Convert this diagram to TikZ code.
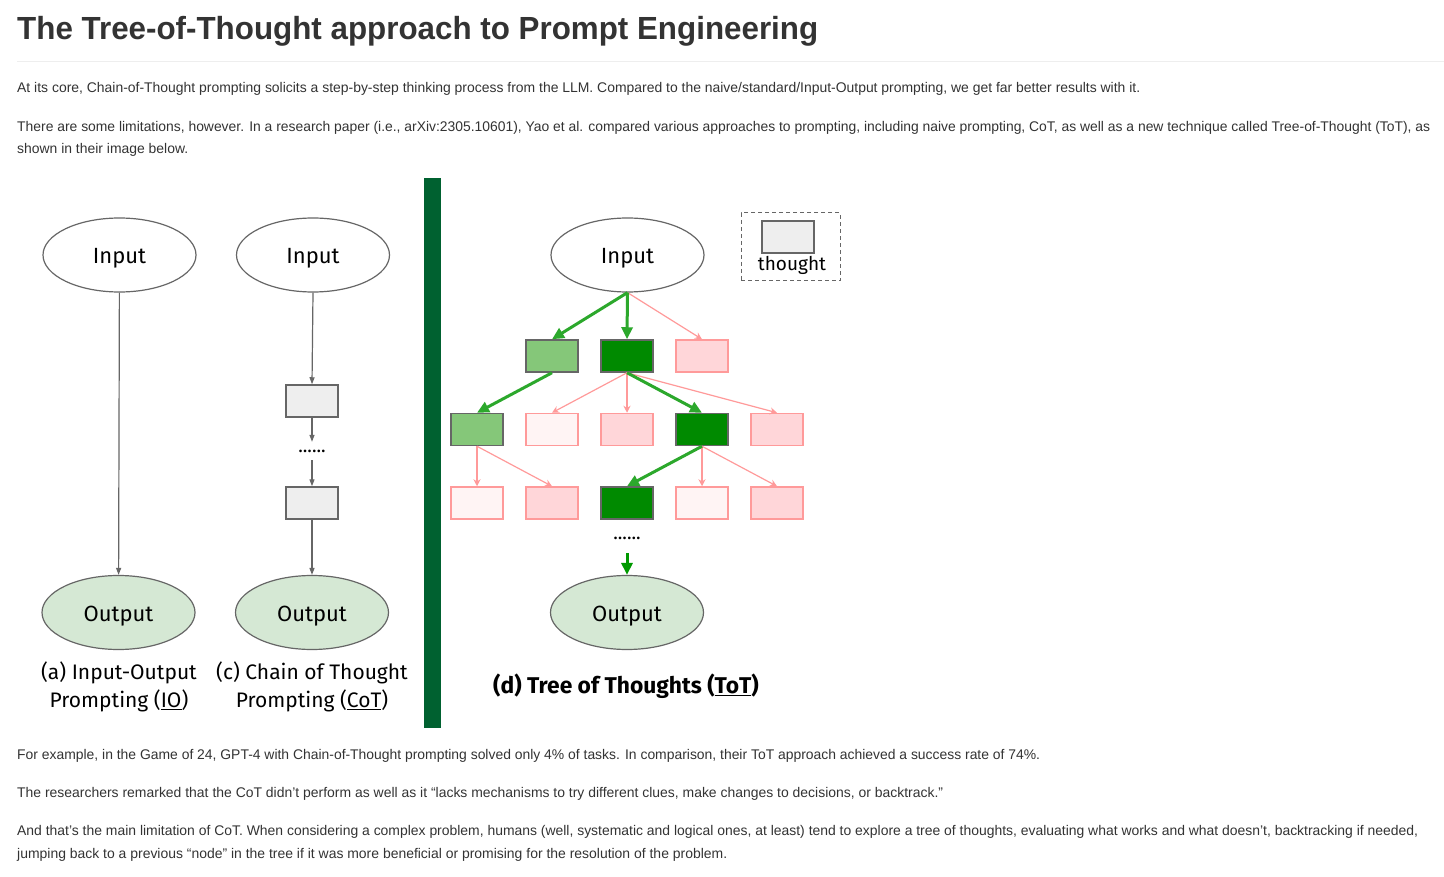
\documentclass[tikz,border=0pt]{standalone}
\usepackage{fontspec}
\usepackage{graphicx}
\setmainfont{Liberation Sans}
\newfontfamily\dfont{Fira Sans}
\usetikzlibrary{arrows.meta,shapes.geometric}
\definecolor{txt}{HTML}{333333}
\definecolor{hr}{HTML}{EEEEEE}
\definecolor{lgray}{HTML}{666666}
\definecolor{thfill}{HTML}{EEEEEE}
\definecolor{outfill}{HTML}{D5E8D4}
\definecolor{lgreen}{HTML}{85C779}
\definecolor{dgreen}{HTML}{008A00}
\definecolor{pstroke}{HTML}{FF9A9A}
\definecolor{pfill}{HTML}{FFD6D9}
\definecolor{vpfill}{HTML}{FFF4F4}
\definecolor{garrow}{HTML}{2CA82C}
\definecolor{oarrow}{HTML}{009900}
\definecolor{bar}{HTML}{006130}
\newcommand{\fitw}[2]{\resizebox{#1}{\height}{#2}}
\tikzset{
  body/.style={anchor=base west, inner sep=0pt, text=txt, font=\fontsize{14}{16}\selectfont},
  gline/.style={draw=lgray, line width=1.2pt, -{Triangle[length=7pt,width=5pt]}},
  ell/.style={ellipse, draw=lgray, line width=1.2pt, minimum width=153pt, minimum height=74pt, inner sep=0pt, text height=18pt, text depth=0pt, font=\dfont\fontsize{22}{26}\selectfont},
  inell/.style={ell, fill=white},
  outell/.style={ell, fill=outfill},
  tbox/.style={rectangle, minimum width=52pt, minimum height=32pt, inner sep=0pt, line width=1.5pt},
  grayb/.style={tbox, draw=lgray, fill=thfill},
  lgb/.style={tbox, draw=lgray, fill=lgreen},
  dgb/.style={tbox, draw=lgray, fill=dgreen},
  pkb/.style={tbox, draw=pstroke, fill=pfill},
  vpb/.style={tbox, draw=pstroke, fill=vpfill},
  garr/.style={draw=garrow, line width=3pt, -{Triangle[length=12pt,width=11pt]}},
  oarr/.style={draw=oarrow, line width=3pt, -{Triangle[length=12pt,width=11pt]}},
  parr/.style={draw=pstroke, line width=1.2pt, -{Stealth[length=7pt,width=7pt]}},
  dotsn/.style={inner sep=0pt, minimum height=18pt, text height=3pt, text depth=0pt, font=\dfont\fontsize{19}{19}\selectfont},
  capt/.style={align=center, inner sep=0pt, font=\dfont\fontsize{21}{28}\selectfont},
}
\begin{document}
\begin{tikzpicture}[x=1pt,y=-1pt]
\useasboundingbox (0,0) rectangle (1444,877);
\fill[white] (0,0) rectangle (1444,877);

% title and rule
\node[anchor=base west, inner sep=0pt, text=txt, font=\bfseries\fontsize{32}{36}\selectfont] (title) at (17,40) {\fitw{801pt}{The Tree-of-Thought approach to Prompt Engineering}};
\draw[hr, line width=1pt] (17,62) -- (1444,62);

% body text
\node[body] (p1) at (17,93) {\fitw{1123pt}{At its core, Chain-of-Thought prompting solicits a step-by-step thinking process from the LLM. Compared to the naive/standard/Input-Output prompting, we get far better results with it.}};
\node[body] (p2a) at (17,132) {\fitw{1413pt}{There are some limitations, however. In a research paper (i.e., arXiv:2305.10601), Yao et al. compared various approaches to prompting, including naive prompting, CoT, as well as a new technique called Tree-of-Thought (ToT), as}};
\node[body] (p2b) at (17,154) {\fitw{171pt}{shown in their image below.}};
\node[body] (p3) at (17,759) {\fitw{1023pt}{For example, in the Game of 24, GPT-4 with Chain-of-Thought prompting solved only 4\% of tasks. In comparison, their ToT approach achieved a success rate of 74\%.}};
\node[body] (p4) at (17,797) {\fitw{926pt}{The researchers remarked that the CoT didn't perform as well as it “lacks mechanisms to try different clues, make changes to decisions, or backtrack.”}};
\node[body] (p5a) at (17,835) {\fitw{1401pt}{And that's the main limitation of CoT. When considering a complex problem, humans (well, systematic and logical ones, at least) tend to explore a tree of thoughts, evaluating what works and what doesn't, backtracking if needed,}};
\node[body] (p5b) at (17,858) {\fitw{710pt}{jumping back to a previous “node” in the tree if it was more beneficial or promising for the resolution of the problem.}};

% divider bar
\fill[bar] (424,178) rectangle (441,728);

% (a) IO
\node[inell] (inA) at (119.5,255) {Input};
\node[outell] (outA) at (118.5,612.5) {Output};
\draw[gline] (inA) -- (outA);
\node[capt] (capA) at (119,687) {(a) Input-Output\\Prompting (\underline{IO})};

% (c) CoT
\node[inell] (inC) at (313,255) {Input};
\node[grayb] (c1) at (312,401) {};
\node[dotsn] (cdots) at (312,451) {......};
\node[grayb] (c2) at (312,503) {};
\node[outell] (outC) at (312,612.5) {Output};
\draw[gline] (inC.south) -- (c1.north);
\draw[gline] (c1) -- (cdots);
\draw[gline] (cdots) -- (c2);
\draw[gline] (c2) -- (outC);
\node[capt] (capC) at (312,687) {(c) Chain of Thought\\Prompting (\underline{CoT})};

% (d) ToT
\node[inell] (inT) at (627.5,255) {Input};
\node[draw=lgray, dash pattern=on 4pt off 3pt, line width=1pt, minimum width=99pt, minimum height=68pt, inner sep=0pt] (legend) at (790.5,247) {};
\node[grayb] (lbox) at (788,237) {};
\node[inner sep=0pt, font=\dfont\fontsize{19}{20}\selectfont] (ltxt) at (792,265) {thought};

\node[lgb] (a1) at (552,356) {};
\node[dgb] (a2) at (627,356) {};
\node[pkb] (a3) at (702,356) {};

\node[lgb] (b1) at (477,429.5) {};
\node[vpb] (b2) at (552,429.5) {};
\node[pkb] (b3) at (627,429.5) {};
\node[dgb] (b4) at (702,429.5) {};
\node[pkb] (b5) at (777,429.5) {};

\node[vpb] (d1) at (477,503) {};
\node[pkb] (d2) at (552,503) {};
\node[dgb] (d3) at (627,503) {};
\node[vpb] (d4) at (702,503) {};
\node[pkb] (d5) at (777,503) {};

\node[dotsn] (tdots) at (627,538) {......};
\coordinate (gstart) at (627,553);
\node[outell] (outT) at (627,612.5) {Output};

\draw[parr] (inT.south) -- (a3.north);
\draw[garr] (inT.south) -- (a1.north);
\draw[garr] (inT.south) -- (a2.north);

\draw[parr] (a2.south) -- (b2.north);
\draw[parr] (a2.south) -- (b3.north);
\draw[parr] (a2.south) -- (b5.north);
\draw[garr] (a2.south) -- (b4.north);
\draw[garr] (a1.south) -- (b1.north);

\draw[parr] (b1.south) -- (d1.north);
\draw[parr] (b1.south) -- (d2.north);
\draw[parr] (b4.south) -- (d4.north);
\draw[parr] (b4.south) -- (d5.north);
\draw[garr] (b4.south) -- (d3.north);

\draw[oarr] (gstart) -- (outT.north);
\node[inner sep=0pt, font=\dfont\bfseries\fontsize{22.8}{26}\selectfont] (capT) at (626,686) {(d) Tree of Thoughts (\underline{ToT})};
\end{tikzpicture}
\end{document}
